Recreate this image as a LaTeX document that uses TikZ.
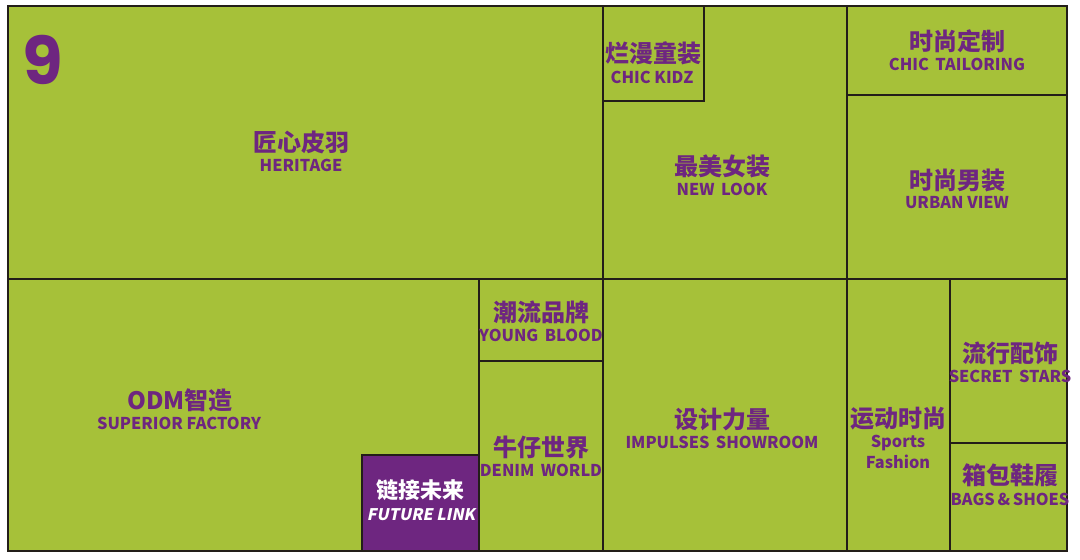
\documentclass[tikz,border=0pt]{standalone}
\usepackage{fontspec}
\newfontfamily\cjk{Noto Sans CJK SC}
\newfontfamily\cjkit{Noto Sans CJK SC}[FakeSlant=0.2]
\newfontfamily\nine{Poppins}
\definecolor{lime}{RGB}{166,193,57}
\definecolor{plum}{RGB}{110,38,128}
\definecolor{ink}{RGB}{35,30,25}
\begin{document}
\begin{tikzpicture}[x=1pt,y=-1pt,
  grid/.style={draw=ink,line width=2.6pt},
  zh/.style={text=plum,font=\cjk\bfseries\fontsize{24}{24}\selectfont,inner sep=0pt},
  en/.style={text=plum,font=\cjk\bfseries\fontsize{16.3}{21}\selectfont,inner sep=0pt,align=center},
  zhw/.style={text=white,font=\cjk\bfseries\fontsize{22}{22}\selectfont,inner sep=0pt},
  enw/.style={text=white,font=\cjkit\bfseries\fontsize{16}{16}\selectfont,inner sep=0pt}]
\useasboundingbox (0,0) rectangle (1080,560);
\fill[white] (0,0) rectangle (1080,560);
\fill[lime] (8,6) rectangle (1067,551);
\fill[plum] (362,455) rectangle (479,551);
% grid lines
\draw[grid] (603,6) -- (603,551);
\draw[grid] (847,6) -- (847,551);
\draw[grid] (8,279) -- (1067,279);
\draw[grid] (847,95) -- (1067,95);
\draw[grid] (603,101) -- (704,101) -- (704,6);
\draw[grid] (479,279) -- (479,551);
\draw[grid] (479,361) -- (603,361);
\draw[grid] (362,551) -- (362,455) -- (479,455);
\draw[grid] (950,279) -- (950,551);
\draw[grid] (950,443) -- (1067,443);
\draw[grid] (8,6) rectangle (1067,551);
% labels
\node[text=plum,font=\nine\bfseries\fontsize{66}{66}\selectfont,inner sep=0pt] (n9) at (43,60) {9};
\node[zh] (t1) at (301,142) {匠心皮羽};
\node[en] (e1) at (301,165) {HERITAGE};
\node[zh] (t2) at (653,53) {烂漫童装};
\node[en] (e2) at (652,77) {CHIC KIDZ};
\node[zh] (t3) at (957,41) {时尚定制};
\node[en] (e3) at (957,64) {CHIC\ \,TAILORING};
\node[zh] (t4) at (722,166) {最美女装};
\node[en] (e4) at (722,189) {NEW\ \,LOOK};
\node[zh] (t5) at (957,180) {时尚男装};
\node[en] (e5) at (957,203) {URBAN VIEW};
\node[zh] (t6) at (541,312) {潮流品牌};
\node[en] (e6) at (541,335) {YOUNG\ \,BLOOD};
\node[zh] (t7) at (180,400) {ODM智造};
\node[en] (e7) at (179,423) {SUPERIOR FACTORY};
\node[zh] (t8) at (541,447) {牛仔世界};
\node[en] (e8) at (541,470) {DENIM\ \,WORLD};
\node[zh] (t9) at (722,419) {设计力量};
\node[en] (e9) at (722,442) {IMPULSES\ \,SHOWROOM};
\node[zh] (t10) at (898,419) {运动时尚};
\node[en] (e10) at (898,452) {Sports\\Fashion};
\node[zh] (t11) at (1010,353) {流行配饰};
\node[en] (e11) at (1010,376) {SECRET\ \,STARS};
\node[zh] (t12) at (1010,475) {箱包鞋履};
\node[en] (e12) at (1010,499) {BAGS\,\&\,SHOES};
\node[zhw] (t13) at (420,490) {链接未来};
\node[enw] (e13) at (421,515) {FUTURE LINK};
\end{tikzpicture}
\end{document}
